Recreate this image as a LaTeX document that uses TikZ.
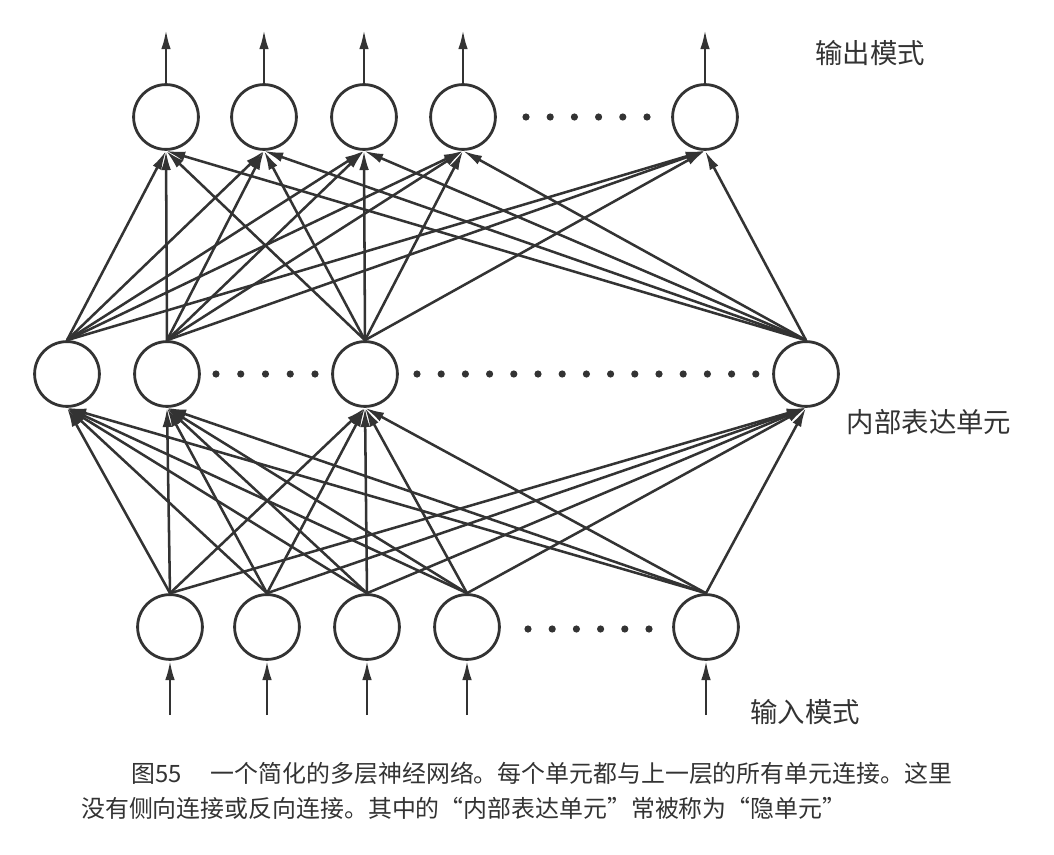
\documentclass[tikz,border=0pt]{standalone}
\usepackage{fontspec}
\newfontfamily\cjk{Noto Sans CJK SC}
\usetikzlibrary{arrows.meta}
\definecolor{inkgray}{HTML}{333333}
\tikzset{
  unit/.style={circle, draw=inkgray, line width=2pt, minimum size=1.62cm, inner sep=0pt},
  link/.style={draw=inkgray, line width=1.8pt, -{Latex[length=4.8mm,width=2.4mm]}},
  label/.style={text=inkgray, font=\cjk\fontsize{19.5}{22}\selectfont, inner sep=0pt},
  capline/.style={text=inkgray, font=\cjk\fontsize{17}{20}\selectfont, inner sep=0pt, anchor=west}
}

\begin{document}
\begin{tikzpicture}[x=0.025cm, y=-0.025cm]
\useasboundingbox (0,0) rectangle (1054,855);
% output layer
\node[unit] (out_1) at (166,117) {};
\node[unit] (out_2) at (264,117) {};
\node[unit] (out_3) at (364,117) {};
\node[unit] (out_4) at (463,117) {};
\node[unit] (out_5) at (705,117) {};
\coordinate (top_1) at (166,30);
\coordinate (top_2) at (264,30);
\coordinate (top_3) at (364,30);
\coordinate (top_4) at (463,30);
\coordinate (top_5) at (705,30);
\draw[link] (out_1.north) -- (top_1);
\draw[link] (out_2.north) -- (top_2);
\draw[link] (out_3.north) -- (top_3);
\draw[link] (out_4.north) -- (top_4);
\draw[link] (out_5.north) -- (top_5);
% hidden layer
\node[unit] (hid_1) at (67,374) {};
\node[unit] (hid_2) at (167,374) {};
\node[unit] (hid_3) at (365,374) {};
\node[unit] (hid_4) at (806,374) {};
% input layer
\node[unit] (in_1) at (170,627) {};
\node[unit] (in_2) at (267,627) {};
\node[unit] (in_3) at (367,627) {};
\node[unit] (in_4) at (467,627) {};
\node[unit] (in_5) at (706,627) {};
\coordinate (src_1) at (170,715);
\coordinate (src_2) at (267,715);
\coordinate (src_3) at (367,715);
\coordinate (src_4) at (467,715);
\coordinate (src_5) at (706,715);
\draw[link] (src_1) -- (in_1.south);
\draw[link] (src_2) -- (in_2.south);
\draw[link] (src_3) -- (in_3.south);
\draw[link] (src_4) -- (in_4.south);
\draw[link] (src_5) -- (in_5.south);
% hidden -> output
\draw[link] (hid_1.north) -- (out_1.south);
\draw[link] (hid_1.north) -- (out_2.south);
\draw[link] (hid_1.north) -- (out_3.south);
\draw[link] (hid_1.north) -- (out_4.south);
\draw[link] (hid_1.north) -- (out_5.south);
\draw[link] (hid_2.north) -- (out_1.south);
\draw[link] (hid_2.north) -- (out_2.south);
\draw[link] (hid_2.north) -- (out_3.south);
\draw[link] (hid_2.north) -- (out_4.south);
\draw[link] (hid_2.north) -- (out_5.south);
\draw[link] (hid_3.north) -- (out_1.south);
\draw[link] (hid_3.north) -- (out_2.south);
\draw[link] (hid_3.north) -- (out_3.south);
\draw[link] (hid_3.north) -- (out_4.south);
\draw[link] (hid_3.north) -- (out_5.south);
\draw[link] (hid_4.north) -- (out_1.south);
\draw[link] (hid_4.north) -- (out_2.south);
\draw[link] (hid_4.north) -- (out_3.south);
\draw[link] (hid_4.north) -- (out_4.south);
\draw[link] (hid_4.north) -- (out_5.south);
% input -> hidden
\draw[link] (in_1.north) -- (hid_1.south);
\draw[link] (in_1.north) -- (hid_2.south);
\draw[link] (in_1.north) -- (hid_3.south);
\draw[link] (in_1.north) -- (hid_4.south);
\draw[link] (in_2.north) -- (hid_1.south);
\draw[link] (in_2.north) -- (hid_2.south);
\draw[link] (in_2.north) -- (hid_3.south);
\draw[link] (in_2.north) -- (hid_4.south);
\draw[link] (in_3.north) -- (hid_1.south);
\draw[link] (in_3.north) -- (hid_2.south);
\draw[link] (in_3.north) -- (hid_3.south);
\draw[link] (in_3.north) -- (hid_4.south);
\draw[link] (in_4.north) -- (hid_1.south);
\draw[link] (in_4.north) -- (hid_2.south);
\draw[link] (in_4.north) -- (hid_3.south);
\draw[link] (in_4.north) -- (hid_4.south);
\draw[link] (in_5.north) -- (hid_1.south);
\draw[link] (in_5.north) -- (hid_2.south);
\draw[link] (in_5.north) -- (hid_3.south);
\draw[link] (in_5.north) -- (hid_4.south);
% dots
\foreach \x in {0,...,5} \fill[inkgray] (526+24.2*\x,117) circle (3.6);
\foreach \x in {0,...,5} \fill[inkgray] (528+24.2*\x,629) circle (3.6);
\foreach \x in {0,...,4} \fill[inkgray] (216+24.75*\x,374) circle (3.6);
\foreach \x in {0,...,14} \fill[inkgray] (417+24.2*\x,374) circle (3.6);
% labels
\node[label] (lab_out) at (870,53) {输出模式};
\node[label] (lab_hid) at (929,422) {内部表达单元};
\node[label] (lab_in) at (805,712) {输入模式};
\node[capline] (cap_1) at (131,773) {图55\quad\ 一个简化的多层神经网络。每个单元都与上一层的所有单元连接。这里};
\node[capline] (cap_2) at (81,808) {没有侧向连接或反向连接。其中的“内部表达单元”常被称为“隐单元”};
\end{tikzpicture}
\end{document}
